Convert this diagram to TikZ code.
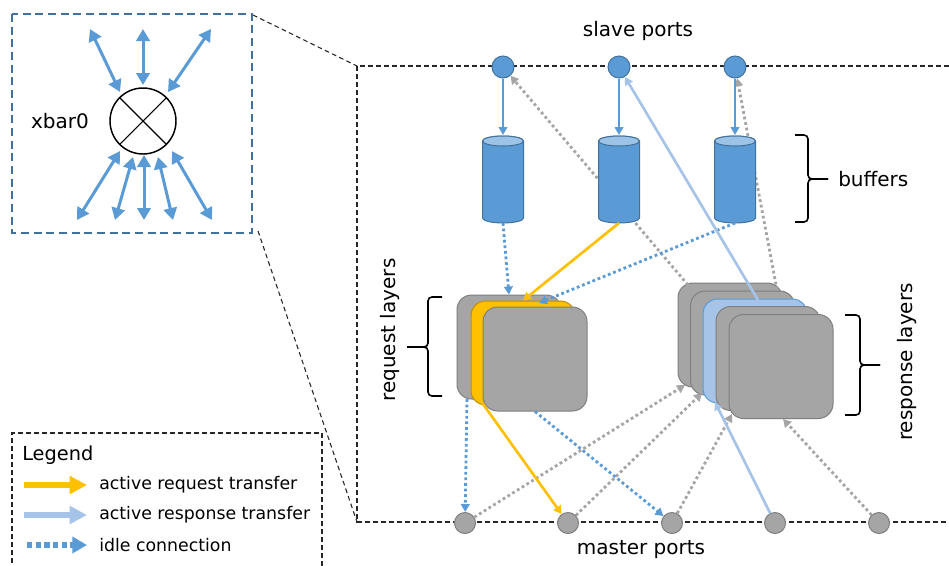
\documentclass[tikz,border=0pt]{standalone}
\usepackage{fontspec}
\setmainfont{DejaVu Sans}
\usetikzlibrary{arrows.meta}
\definecolor{bluea}{HTML}{5B9BD5}
\definecolor{blued}{HTML}{41719C}
\definecolor{bluel}{HTML}{A5C4E8}
\definecolor{bluetop}{HTML}{9DC3E6}
\definecolor{grayf}{HTML}{A5A5A5}
\definecolor{grayd}{HTML}{7F7F7F}
\definecolor{yel}{HTML}{FFC000}
\definecolor{yeld}{HTML}{BF9000}
\newcommand\bufcyl[2]{%
  \draw[draw=blued, fill=bluea, line width=0.75pt] (#2-20.5,141) -- (#2-20.5,218)
     arc[start angle=180,end angle=360,x radius=15.375pt,y radius=3.75pt] -- (#2+20.5,141)
     arc[start angle=0,end angle=180,x radius=15.375pt,y radius=3.75pt] -- cycle;
  \draw[draw=blued, fill=bluetop, line width=0.75pt] (#2,141) ellipse[x radius=15.375pt, y radius=3.75pt];
  \coordinate (#1t) at (#2,135);
  \coordinate (#1b) at (#2,223);}
\begin{document}
\begin{tikzpicture}[x=0.75pt,y=-0.75pt,
  lbl/.style={font=\fontsize{15}{18}\selectfont, inner sep=0},
  leg/.style={font=\fontsize{13}{16}\selectfont, inner sep=0, anchor=west},
  sport/.style={circle, draw=blued, fill=bluea, line width=0.75pt, minimum size=16.5pt, inner sep=0},
  mport/.style={circle, draw=grayd, fill=grayf, line width=0.75pt, minimum size=15.75pt, inner sep=0},
  layer/.style={rectangle, rounded corners=11pt, draw=grayd, fill=grayf, line width=0.75pt, minimum width=78pt, minimum height=78pt, inner sep=0},
  tipa/.style={-{Triangle[length=6pt,width=6.5pt]}},
  reqline/.style={draw=yel, line width=2pt, tipa},
  resline/.style={draw=bluel, line width=2pt, tipa},
  idleb/.style={draw=bluea, line width=2.1pt, dash pattern=on 2.1pt off 2.1pt, tipa},
  idleg/.style={draw=grayf, line width=2.1pt, dash pattern=on 2.1pt off 2.1pt, tipa},
  feed/.style={draw=bluea, line width=1.5pt, tipa},
  framedash/.style={draw=black!85, line width=0.8pt, dash pattern=on 3.5pt off 2.5pt},
  insetarrow/.style={draw=bluea, line width=2.25pt, {Triangle[length=9pt,width=10pt]}-{Triangle[length=9pt,width=10pt]}},
  bracestyle/.style={draw=black, line width=1.2pt, rounded corners=3pt}
]
\fill[white] (0,0) rectangle (949,565);
\useasboundingbox (0,0) rectangle (949,565);

% frames
\draw[framedash] (949,66) -- (357,66) -- (357,522) -- (949,522);
\coordinate (insTR) at (253,15);
\coordinate (insBR) at (258,231);
\coordinate (frTL) at (357,66);
\coordinate (frBL) at (357,522);
\draw[framedash] (insTR) -- (frTL);
\draw[framedash] (insBR) -- (frBL);
\draw[draw=blued, line width=1.5pt, dash pattern=on 6pt off 3.5pt] (12,14) rectangle (252,233);
\draw[framedash] (322,566) -- (322,433) -- (12,433) -- (12,566);

% inset
\node[circle, draw=black, line width=1.1pt, minimum size=49.5pt, inner sep=0] (xb) at (143,121) {};
\draw[line width=0.8pt] (xb.45) -- (xb.225);
\draw[line width=0.8pt] (xb.135) -- (xb.315);
\node[lbl] (txbar) at (60,121) {xbar0};
\coordinate (a1o) at (90,29);  \coordinate (a1i) at (120,92);
\coordinate (a2o) at (143,29); \coordinate (a2i) at (143,85);
\coordinate (a3o) at (211,29); \coordinate (a3i) at (168,92);
\coordinate (b1o) at (77,220);  \coordinate (b1i) at (120,151);
\coordinate (b2o) at (115,220); \coordinate (b2i) at (133,157);
\coordinate (b3o) at (144,220); \coordinate (b3i) at (144,155);
\coordinate (b4o) at (173,220); \coordinate (b4i) at (158,157);
\coordinate (b5o) at (212,220); \coordinate (b5i) at (172,151);
\foreach \p in {a1,a2,a3,b1,b2,b3,b4,b5} {\draw[insetarrow] (\p o) -- (\p i);}

% layers
\node[layer] (q1) at (509,347) {};
\node[layer, fill=yel, draw=yeld] (q2) at (523,353) {};
\node[layer] (q3) at (535,359) {};
\node[layer] (r1) at (730,335) {};
\node[layer] (r2) at (742.5,343) {};
\node[layer, fill=bluel, draw=bluea] (r3) at (755,351) {};
\node[layer] (r4) at (768,358.5) {};
\node[layer] (r5) at (781,366.5) {};

% ports
\node[sport] (s1) at (503,67) {};
\node[sport] (s2) at (619,67) {};
\node[sport] (s3) at (735,67) {};
\node[mport] (m1) at (465,523) {};
\node[mport] (m2) at (568,523) {};
\node[mport] (m3) at (672,523) {};
\node[mport] (m4) at (775,523) {};
\node[mport] (m5) at (879,523) {};

% connector end points
\coordinate (r1top) at (688,285);
\coordinate (r2top) at (777,290);
\coordinate (r3top) at (758,300);
\coordinate (q2in) at (539,303);
\coordinate (q2out) at (483,404);
\coordinate (q1out) at (467,399);
\coordinate (r1in) at (685,385);
\coordinate (r2in) at (702,393);
\coordinate (r4in) at (732,414);
\coordinate (r3in) at (715,402);
\coordinate (r5in) at (783,419);

% response lines going behind buffers
\draw[idleg] (r1top) -- (s1);
\draw[idleg] (r2top) -- (s3);

% buffers
\bufcyl{c1}{503}
\bufcyl{c2}{619}
\bufcyl{c3}{735}

% connectors
\draw[feed] (s1) -- (c1t);
\draw[feed] (s2) -- (c2t);
\draw[feed] (s3) -- (c3t);
\draw[idleb] (c1b) -- (q1.north);
\draw[reqline] (c2b) -- (q2.north);
\draw[idleb] (c3b) -- (q2in);
\draw[idleb] (q1out) -- (m1);
\draw[idleg] (m1) -- (r1in);
\draw[idleg] (m2) -- (r2in);
\draw[idleg] (m3) -- (r4in);
\draw[idleg] (m5) -- (r5in);
\draw[reqline] (q2out) -- (m2);
\draw[idleb] (q3.south) -- (m3);
\draw[resline] (m4) -- (r3in);
\draw[resline] (r3top) -- (s2);

% braces
\draw[bracestyle] (795,135) -- (808,135) -- (808,179) -- (828,179);
\draw[bracestyle] (795,222) -- (808,222) -- (808,179) -- (828,179);
\draw[bracestyle] (845,315) -- (860,315) -- (860,365) -- (880,365);
\draw[bracestyle] (845,415) -- (860,415) -- (860,365) -- (880,365);
\draw[bracestyle] (442,297) -- (428,297) -- (428,347) -- (407,347);
\draw[bracestyle] (442,396) -- (428,396) -- (428,347) -- (407,347);

% labels
\node[lbl] (tslave) at (638,31) {slave ports};
\node[lbl] (tmaster) at (641,550) {master ports};
\node[lbl, anchor=west] (tbuf) at (838,179) {buffers};
\node[lbl, rotate=90] (treq) at (390,330) {request layers};
\node[lbl, rotate=90] (tres) at (907,362) {response layers};

% legend
\node[leg, font=\fontsize{14.5}{17}\selectfont] (tlegend) at (22,455) {Legend};
\coordinate (l1a) at (24,485); \coordinate (l1b) at (87,485);
\coordinate (l2a) at (24,515); \coordinate (l2b) at (87,515);
\coordinate (l3a) at (27,545); \coordinate (l3b) at (87,545);
\draw[draw=yel, line width=4pt, -{Triangle[length=13pt,width=13pt]}] (l1a) -- (l1b);
\draw[draw=bluel, line width=4pt, -{Triangle[length=13pt,width=13pt]}] (l2a) -- (l2b);
\draw[draw=bluea, line width=4pt, dash pattern=on 4pt off 2.5pt, -{Triangle[length=11pt,width=12pt]}] (l3a) -- (l3b);
\node[leg] (t1) at (99,485) {active request transfer};
\node[leg] (t2) at (99,515) {active response transfer};
\node[leg] (t3) at (99,545) {idle connection};
\end{tikzpicture}
\end{document}
